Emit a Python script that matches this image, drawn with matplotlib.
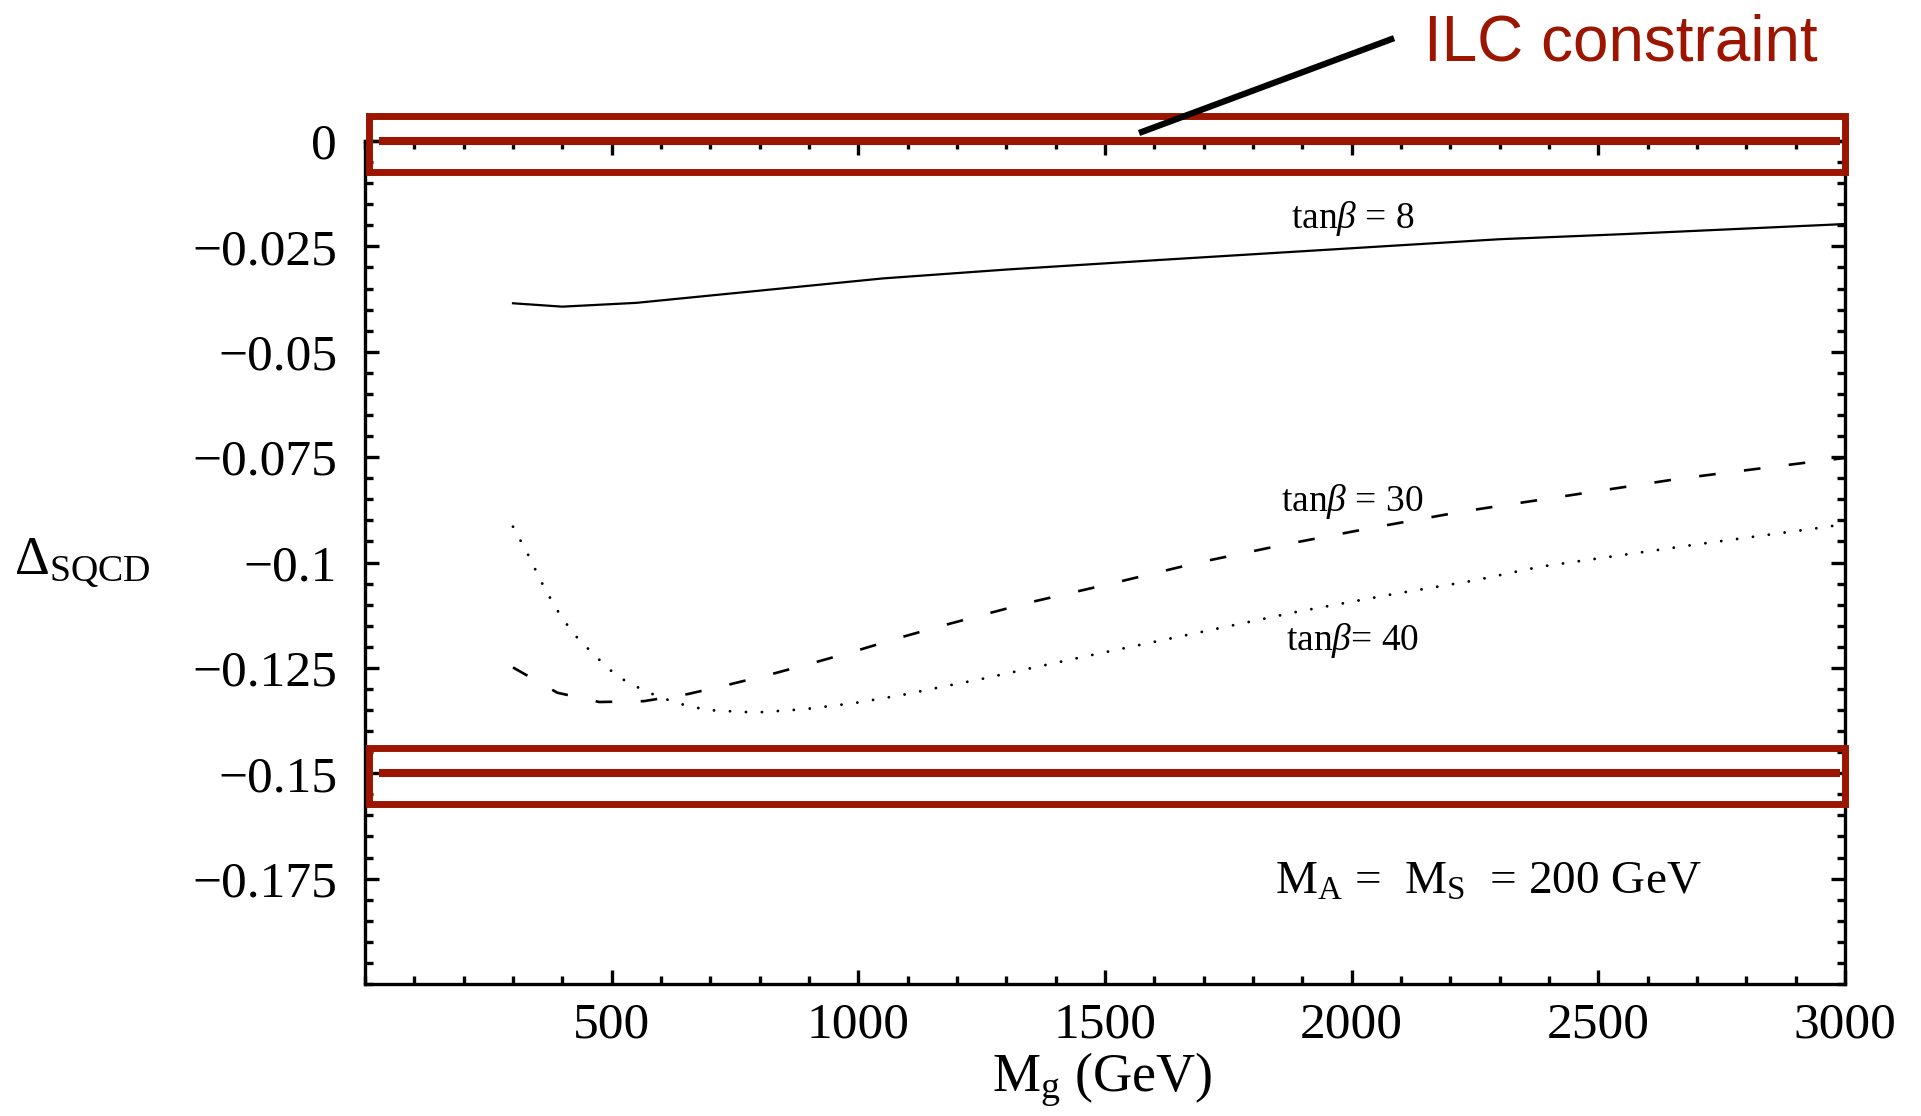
import matplotlib
matplotlib.use("Agg")
import matplotlib.pyplot as plt
from matplotlib.ticker import FixedLocator, FixedFormatter, MultipleLocator
from matplotlib.patches import Rectangle

plt.rcParams['font.family'] = ['Liberation Serif', 'DejaVu Serif']
plt.rcParams['mathtext.fontset'] = 'custom'
plt.rcParams['mathtext.rm'] = 'Liberation Serif'
plt.rcParams['mathtext.it'] = 'Liberation Serif:italic'
plt.rcParams['lines.scale_dashes'] = False

RED = '#9c1500'

# Delta_SQCD vs gluino mass M_g (GeV), M_A = M_S = 200 GeV
mg_tb8 = [300, 400, 550, 800, 1050, 1300, 1600, 1950, 2300, 2550, 3000]
d_tb8 = [-0.0385, -0.0393, -0.0384, -0.0355, -0.0326, -0.0305, -0.0283,
         -0.0258, -0.0233, -0.0221, -0.0197]

mg_tb30 = [300, 390, 475, 565, 655, 740, 830, 915, 1000, 1085, 1170, 1250,
           1350, 1520, 1690, 1870, 2045, 2225, 2395, 2665, 2935, 3000]
d_tb30 = [-0.1249, -0.1309, -0.1331, -0.1329, -0.1312, -0.1289, -0.1263,
          -0.1236, -0.1208, -0.1178, -0.1150, -0.1125, -0.1094, -0.1048,
          -0.1000, -0.0956, -0.0917, -0.0879, -0.0849, -0.0801, -0.0761,
          -0.0752]

mg_tb40 = [300, 330, 357, 386, 421, 465, 511, 569, 630, 693, 792, 891, 989,
           1086, 1182, 1247, 1443, 1666, 1889, 2084, 2247, 2382, 2706, 2966,
           3000]
d_tb40 = [-0.0915, -0.0980, -0.1045, -0.1107, -0.1167, -0.1220, -0.1270,
          -0.1306, -0.1333, -0.1350, -0.1356, -0.1348, -0.1334, -0.1315,
          -0.1292, -0.1277, -0.1227, -0.1172, -0.1117, -0.1075, -0.1043,
          -0.1010, -0.0956, -0.0915, -0.0908]

# ILC constraint levels
ilc_levels = [0.0, -0.15]

x_ticks = [500, 1000, 1500, 2000, 2500, 3000]
x_ticklabels = ['500', '1000', '1500', '2000', '2500', '3000']
y_ticks = [0, -0.025, -0.05, -0.075, -0.1, -0.125, -0.15, -0.175]
y_ticklabels = ['0', '\u22120.025', '\u22120.05', '\u22120.075', '\u22120.1',
                '\u22120.125', '\u22120.15', '\u22120.175']

fig = plt.figure(figsize=(19.21, 11.16), dpi=100)
ax = fig.add_axes([365 / 1921, 1 - 984 / 1116, 1480 / 1921, 843 / 1116])

ax.plot(mg_tb8, d_tb8, color='black', lw=1.6)
ax.plot(mg_tb30, d_tb30, color='black', lw=1.9, dashes=(12, 20.5))
ax.plot(mg_tb40, d_tb40, color='black', lw=2.1, dashes=(0.01, 11.5),
        dash_capstyle='round')

ax.set_xlim(0, 3000)
ax.set_ylim(-0.2, 0)
ax.xaxis.set_major_locator(FixedLocator(x_ticks))
ax.xaxis.set_major_formatter(FixedFormatter(x_ticklabels))
ax.yaxis.set_major_locator(FixedLocator(y_ticks))
ax.yaxis.set_major_formatter(FixedFormatter(y_ticklabels))
ax.xaxis.set_minor_locator(MultipleLocator(100))
ax.yaxis.set_minor_locator(MultipleLocator(0.005))
ax.tick_params(which='both', direction='in', top=True, right=True, width=2.4)
ax.tick_params(which='major', length=10, labelsize=37)
ax.tick_params(which='minor', length=6)
ax.tick_params(axis='y', pad=20)
ax.tick_params(axis='x', pad=13)
for s in ax.spines.values():
    s.set_linewidth(2.4)

fig.text(14 / 1921, 1 - 563 / 1116, r'$\Delta_{\mathrm{SQCD}}$',
         ha='left', va='center', fontsize=39)
fig.text(1102 / 1921, 1 - 1080 / 1116, r'M$_{\mathrm{g}}$ (GeV)',
         ha='center', va='center', fontsize=39)

ax.text(2002, -0.0183, r'tan$\beta$ = 8', ha='center', va='center', fontsize=27)
ax.text(2002, -0.0856, r'tan$\beta$ = 30', ha='center', va='center', fontsize=27)
ax.text(2002, -0.1184, r'tan$\beta$= 40', ha='center', va='center', fontsize=27)
ax.text(1845, -0.1758, r'M$_{\mathrm{A}}$ =  M$_{\mathrm{S}}$  = 200 GeV',
        ha='left', va='center', fontsize=34)

# ILC bands: outlined box with the central value drawn through it
for lev in ilc_levels:
    ax.add_patch(Rectangle((8, lev - 0.0073), 2993, 0.0132, fill=False,
                           ec=RED, lw=5, clip_on=False, zorder=5))
    ax.plot([29, 2990], [lev, lev], color=RED, lw=5.8, solid_capstyle='butt',
            clip_on=False, zorder=5)

ax.plot([1569, 2086], [0.0019, 0.0244], color='black', lw=4.5,
        solid_capstyle='butt', clip_on=False, zorder=6)
ax.text(2147, 0.019, 'ILC constraint', ha='left', va='baseline',
        family='Liberation Sans', fontsize=46, color=RED)

fig.savefig('out.png', dpi=100)
